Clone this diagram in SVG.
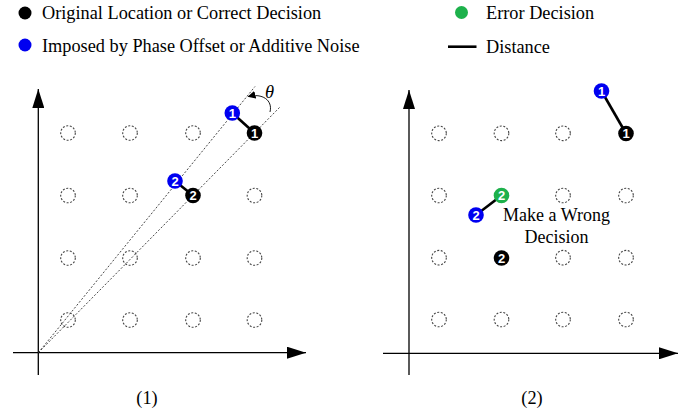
<svg xmlns="http://www.w3.org/2000/svg" width="700" height="413" viewBox="0 0 700 413">
<defs>
<marker id="ax" markerWidth="19" markerHeight="12" refX="19" refY="6" orient="auto" markerUnits="userSpaceOnUse">
<path d="M0,0 L19,6 L0,12 Z" fill="#000"/>
</marker>
<marker id="th" markerWidth="8" markerHeight="8" refX="7" refY="4" orient="auto" markerUnits="userSpaceOnUse">
<path d="M0,0 L8,4 L0,8 Z" fill="#000"/>
</marker>
<style>
.t{font-family:"Liberation Serif","Times New Roman",serif;fill:#000}
.lg{font-size:18.3px}
.ax{stroke:#000;stroke-width:1.3;fill:none}
.g{fill:#fff;stroke:#444;stroke-width:1.1;stroke-dasharray:2,1.6}
.ray{stroke:#333;stroke-width:0.9;stroke-dasharray:2,1.8;fill:none}
.d{stroke:#000;stroke-width:2.6}
.bk{fill:#000}
.bl{fill:#0000f0}
.gr{fill:#1db14b}
.n{font-family:"Liberation Sans",Arial,sans-serif;font-size:13px;font-weight:bold;fill:#fff;text-anchor:middle}
</style>
</defs>

<g id="legend">
<circle cx="25" cy="13" r="6.5" class="bk"/>
<text class="t lg" x="42" y="18.5">Original Location or Correct Decision</text>
<circle cx="25" cy="45" r="6.5" class="bl"/>
<text class="t lg" x="42" y="52">Imposed by Phase Offset or Additive Noise</text>
<circle cx="461.5" cy="12.5" r="6.5" class="gr"/>
<text class="t lg" x="486" y="18.5">Error Decision</text>
<line x1="448" y1="46.7" x2="476.5" y2="46.7" stroke="#000" stroke-width="2.6"/>
<text class="t lg" x="486" y="52.5">Distance</text>
</g>

<g id="panel1-axes">
<line class="ax" x1="38.3" y1="375" x2="38.3" y2="89" marker-end="url(#ax)"/>
<line class="ax" x1="13" y1="352.7" x2="306" y2="352.7" marker-end="url(#ax)"/>
</g>
<g id="panel1-grid">
<circle class="g" cx="68" cy="133" r="7.3"/><circle class="g" cx="130" cy="133" r="7.3"/><circle class="g" cx="193" cy="133" r="7.3"/>
<circle class="g" cx="68" cy="195.5" r="7.3"/><circle class="g" cx="130" cy="195.5" r="7.3"/><circle class="g" cx="254.5" cy="195.5" r="7.3"/>
<circle class="g" cx="68" cy="258" r="7.3"/><circle class="g" cx="130" cy="258" r="7.3"/><circle class="g" cx="193" cy="258" r="7.3"/><circle class="g" cx="254.5" cy="258" r="7.3"/>
<circle class="g" cx="68" cy="320" r="7.3"/><circle class="g" cx="130" cy="320" r="7.3"/><circle class="g" cx="193" cy="320" r="7.3"/><circle class="g" cx="254.5" cy="320" r="7.3"/>
</g>
<g id="connectors">
<line class="ray" x1="38.3" y1="352.7" x2="280" y2="107"/>
<line class="ray" x1="38.3" y1="352.7" x2="255" y2="86.5"/>
<path d="M270,112 C273,100 262,93 248.5,96.5" fill="none" stroke="#000" stroke-width="0.9" marker-end="url(#th)"/>
<line class="d" x1="232.3" y1="113" x2="254.5" y2="133"/>
<line class="d" x1="175" y1="181" x2="193" y2="195.5"/>
<line class="d" x1="601.5" y1="91" x2="626" y2="133.5"/>
<line class="d" x1="476" y1="215" x2="501.5" y2="195.5"/>
</g>
<g id="theta"><text class="t" x="265" y="98" font-size="18.5" font-style="italic">θ</text></g>
<g id="p1-b1"><circle cx="232.3" cy="113" r="7.8" class="bl"/><text class="n" x="232.3" y="117.6">1</text></g>
<g id="p1-k1"><circle cx="254.5" cy="133" r="7.8" class="bk"/><text class="n" x="254.5" y="137.6">1</text></g>
<g id="p1-b2"><circle cx="175" cy="181" r="7.8" class="bl"/><text class="n" x="175" y="185.6">2</text></g>
<g id="p1-k2"><circle cx="193" cy="195.5" r="7.8" class="bk"/><text class="n" x="193" y="200.1">2</text></g>
<g id="label1"><text class="t" x="147" y="404" font-size="18.3" text-anchor="middle">(1)</text></g>

<g id="panel2-axes">
<line class="ax" x1="409" y1="375" x2="409" y2="90" marker-end="url(#ax)"/>
<line class="ax" x1="383" y1="353.3" x2="678" y2="353.3" marker-end="url(#ax)"/>
</g>
<g id="panel2-grid">
<circle class="g" cx="439" cy="133.3" r="7.3"/><circle class="g" cx="501.5" cy="133.3" r="7.3"/><circle class="g" cx="563" cy="133.3" r="7.3"/>
<circle class="g" cx="439" cy="195.5" r="7.3"/><circle class="g" cx="563" cy="195.5" r="7.3"/><circle class="g" cx="626" cy="195.5" r="7.3"/>
<circle class="g" cx="439" cy="257.7" r="7.3"/><circle class="g" cx="563" cy="257.7" r="7.3"/><circle class="g" cx="626" cy="257.7" r="7.3"/>
<circle class="g" cx="439" cy="319.5" r="7.3"/><circle class="g" cx="501.5" cy="319.5" r="7.3"/><circle class="g" cx="563" cy="319.5" r="7.3"/><circle class="g" cx="626" cy="319.5" r="7.3"/>
</g>
<g id="p2-b1"><circle cx="601.5" cy="91" r="7.8" class="bl"/><text class="n" x="601.5" y="95.6">1</text></g>
<g id="p2-k1"><circle cx="626" cy="133.5" r="7.8" class="bk"/><text class="n" x="626" y="138.1">1</text></g>
<g id="p2-g2"><circle cx="501.5" cy="195.5" r="7.8" class="gr"/><text class="n" x="501.5" y="200.1">2</text></g>
<g id="p2-b2"><circle cx="476" cy="215" r="7.8" class="bl"/><text class="n" x="476" y="219.6">2</text></g>
<g id="p2-k2"><circle cx="501.5" cy="258" r="7.8" class="bk"/><text class="n" x="501.5" y="262.6">2</text></g>
<g id="wrong"><text class="t" font-size="18" text-anchor="middle"><tspan x="556.5" y="221">Make a Wrong</tspan><tspan x="556.5" y="242.5">Decision</tspan></text></g>
<g id="label2"><text class="t" x="532" y="404" font-size="18.3" text-anchor="middle">(2)</text></g>
</svg>
